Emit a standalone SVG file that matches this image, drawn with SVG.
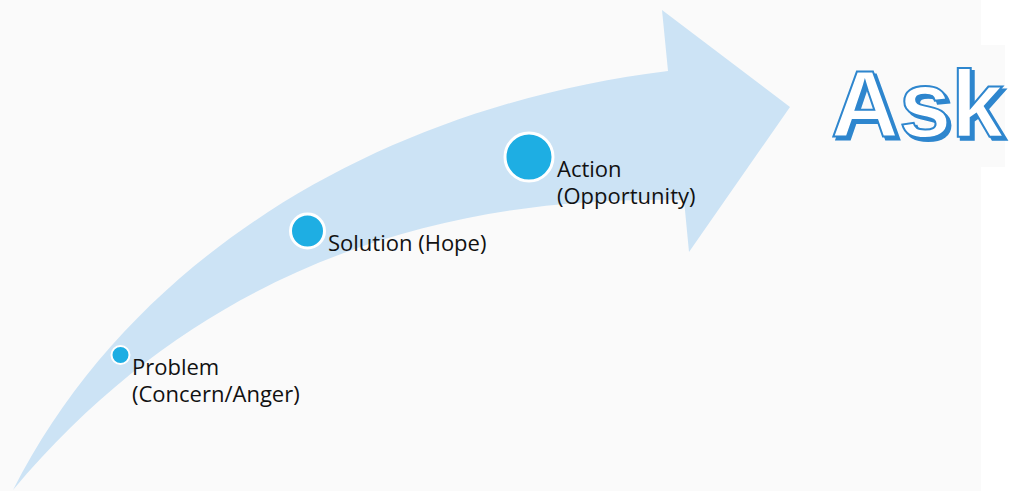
<svg xmlns="http://www.w3.org/2000/svg" width="1009" height="491" viewBox="0 0 1009 491">
<style>
.lbl{font-family:"Open Sans","Noto Sans",sans-serif;font-size:22px;fill:#111}
.dot{fill:#1EAEE3;stroke:#fff}
.ask{font-family:"Liberation Sans",Arial,sans-serif;font-weight:bold;font-size:94px}
</style>
<defs>
<filter id="shadow" x="-10%" y="-10%" width="130%" height="130%">
<feOffset in="SourceAlpha" dx="3" dy="3" result="off"/>
<feFlood flood-color="#2E86CE"/>
<feComposite in2="off" operator="in" result="sh"/>
<feMerge><feMergeNode in="sh"/><feMergeNode in="SourceGraphic"/></feMerge>
</filter>
</defs>
<rect x="0" y="0" width="1009" height="491" fill="#fff"/>
<rect x="0" y="0" width="981" height="491" fill="#FAFAFA"/>
<rect x="981" y="45" width="24" height="122" fill="#FAFAFA"/>
<g id="arrow">
<path d="M13,490 C135,250 390,105 668,71 L662,10 L790,107 L689,252 L684,200 C460,195 210,255 13,490 Z" fill="#CCE3F5"/>
</g>
<g id="ask">
<text class="ask" x="831" y="137" fill="#fff" stroke="#2E86CE" stroke-width="2" filter="url(#shadow)">Ask</text>
</g>
<g id="problem">
<circle class="dot" cx="120.5" cy="355" r="9" stroke-width="2"/>
<text class="lbl" x="132" y="375">Problem<tspan x="132" y="402">(Concern/Anger)</tspan></text>
</g>
<g id="solution">
<circle class="dot" cx="307.5" cy="231" r="17" stroke-width="3"/>
<text class="lbl" x="328" y="251">Solution (Hope)</text>
</g>
<g id="action">
<circle class="dot" cx="529" cy="157" r="24" stroke-width="3"/>
<text class="lbl" x="557" y="177">Action<tspan x="557" y="204">(Opportunity)</tspan></text>
</g>
<g id="connectors"></g>
</svg>
